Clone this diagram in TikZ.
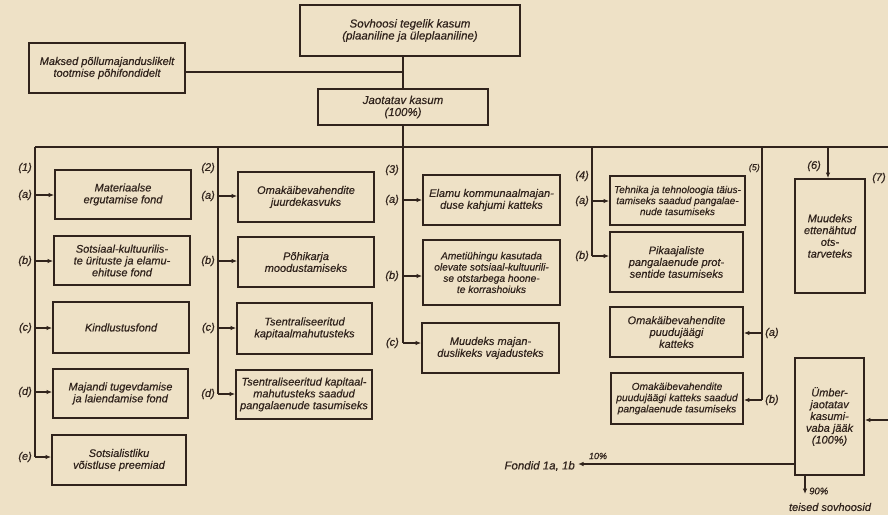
\documentclass[tikz,border=0pt]{standalone}
\usepackage{fontspec}
\setmainfont{Liberation Sans}[ItalicFeatures={FakeBold=0.45}]
\usetikzlibrary{arrows.meta}
\definecolor{paper}{RGB}{238,225,198}
\definecolor{ink}{RGB}{48,35,28}
\tikzset{
  box/.style={draw=ink, line width=1.7pt, align=center, inner sep=1pt, text=ink,
    font=\fontsize{11}{11.8}\selectfont\itshape},
  smallbox/.style={box, font=\fontsize{10.2}{11.2}\selectfont\itshape},
  conn/.style={draw=ink, line width=1.2pt},
  arr/.style={conn, -{Latex[length=5.5pt,width=4.5pt]}},
  lab/.style={text=ink, inner sep=1pt, font=\fontsize{11}{12}\selectfont\itshape},
}
\begin{document}
\begin{tikzpicture}[x=1pt,y=-1pt]
\fill[paper] (0,0) rectangle (888,515);
\useasboundingbox (0,0) rectangle (888,515);

% top boxes
\node[box, minimum width=220pt, minimum height=51pt, font=\fontsize{11.5}{12}\selectfont\itshape] (T) at (410,30.5)
  {Sovhoosi tegelik kasum\\(plaaniline ja üleplaaniline)};
\node[box, minimum width=156pt, minimum height=50pt] (P) at (107,68)
  {Maksed põllumajanduslikelt\\tootmise põhifondidelt};
\node[box, minimum width=170pt, minimum height=36pt, font=\fontsize{11.5}{12}\selectfont\itshape] (J) at (403,107)
  {Jaotatav kasum\\(100\%)};

\coordinate (pj) at (403,72);
\draw[conn] (T.south -| J.north) -- (J.north);
\draw[conn] (P.east |- pj) -- (pj);

% bus
\coordinate (b1) at (35,147);
\coordinate (bR) at (888,147);
\draw[conn] (b1) -- (bR);
\draw[conn] (J.south) -- (J.south |- b1);

% column 1
\node[box, minimum width=136pt, minimum height=49pt] (m1a) at (123,194.5) {Materiaalse\\ergutamise fond};
\node[box, minimum width=136pt, minimum height=49pt] (m1b) at (122,260.5) {Sotsiaal-kultuurilis-\\te ürituste ja elamu-\\ehituse fond};
\node[box, minimum width=136pt, minimum height=51pt] (m1c) at (121,327.5) {Kindlustusfond};
\node[box, minimum width=135pt, minimum height=49pt] (m1d) at (120.5,393.5) {Majandi tugevdamise\\ja laiendamise fond};
\node[box, minimum width=134pt, minimum height=50pt] (m1e) at (119,460) {Sotsialistliku\\võistluse preemiad};
\coordinate (a1a) at (35,195);
\coordinate (a1b) at (35,261);
\coordinate (a1c) at (35,328);
\coordinate (a1d) at (35,392);
\coordinate (a1e) at (35,457);
\draw[conn] (b1) -- (a1e);
\foreach \k in {a,b,c,d,e} {\draw[arr] (a1\k) -- (a1\k -| m1\k.west);}
\node[lab, anchor=east] (l1) at (33,168) {(1)};
\node[lab, anchor=east] (l1a) at (33,195) {(a)};
\node[lab, anchor=east] (l1b) at (33,261) {(b)};
\node[lab, anchor=east] (l1c) at (33,328) {(c)};
\node[lab, anchor=east] (l1d) at (33,392) {(d)};
\node[lab, anchor=east] (l1e) at (33,457) {(e)};

% column 2
\node[box, minimum width=136pt, minimum height=50pt] (m2a) at (306,197) {Omakäibevahendite\\juurdekasvuks};
\node[box, minimum width=136pt, minimum height=50pt] (m2b) at (306,262) {Põhikarja\\moodustamiseks};
\node[box, minimum width=135pt, minimum height=51pt] (m2c) at (304.5,328.5) {Tsentraliseeritud\\kapitaalmahutusteks};
\node[box, minimum width=136pt, minimum height=49pt] (m2d) at (304,394.5) {Tsentraliseeritud kapitaal-\\mahutusteks saadud\\pangalaenude tasumiseks};
\coordinate (t2) at (218,147);
\coordinate (a2a) at (218,196);
\coordinate (a2b) at (218,261);
\coordinate (a2c) at (218,328);
\coordinate (a2d) at (218,394);
\draw[conn] (t2) -- (a2d);
\foreach \k in {a,b,c,d} {\draw[arr] (a2\k) -- (a2\k -| m2\k.west);}
\node[lab, anchor=east] (l2) at (216,168) {(2)};
\node[lab, anchor=east] (l2a) at (216,196) {(a)};
\node[lab, anchor=east] (l2b) at (216,261) {(b)};
\node[lab, anchor=east] (l2c) at (216,328) {(c)};
\node[lab, anchor=east] (l2d) at (216,394) {(d)};

% column 3
\node[box, minimum width=137pt, minimum height=50pt] (m3a) at (491.5,200) {Elamu kommunaalmajan-\\duse kahjumi katteks};
\node[smallbox, minimum width=137pt, minimum height=65pt] (m3b) at (491.5,272.5) {Ametiühingu kasutada\\olevate sotsiaal-kultuurili-\\se otstarbega hoone-\\te korrashoiuks};
\node[box, minimum width=137pt, minimum height=50pt] (m3c) at (490.5,348) {Muudeks majan-\\duslikeks vajadusteks};
\coordinate (a3a) at (403,200);
\coordinate (a3b) at (403,276);
\coordinate (a3c) at (403,343);
\draw[conn] (J.south |- b1) -- (a3c);
\foreach \k in {a,b,c} {\draw[arr] (a3\k) -- (a3\k -| m3\k.west);}
\node[lab, anchor=east] (l3) at (400,170) {(3)};
\node[lab, anchor=east] (l3a) at (400,200) {(a)};
\node[lab, anchor=east] (l3b) at (400,276) {(b)};
\node[lab, anchor=east] (l3c) at (400,343) {(c)};

% column 4
\node[smallbox, minimum width=135pt, minimum height=49pt, font=\fontsize{10}{11}\selectfont\itshape] (m4a) at (677.5,200.5) {Tehnika ja tehnoloogia täius-\\tamiseks saadud pangalae-\\nude tasumiseks};
\node[box, minimum width=133pt, minimum height=60pt] (m4b) at (676.5,262) {Pikaajaliste\\pangalaenude prot-\\sentide tasumiseks};
\coordinate (t4) at (592,147);
\coordinate (a4a) at (592,201);
\coordinate (a4b) at (592,256);
\draw[conn] (t4) -- (a4b);
\foreach \k in {a,b} {\draw[arr] (a4\k) -- (a4\k -| m4\k.west);}
\node[lab, anchor=east] (l4) at (590,176) {(4)};
\node[lab, anchor=east] (l4a) at (590,201) {(a)};
\node[lab, anchor=east] (l4b) at (590,256) {(b)};

% column 5
\node[box, minimum width=133pt, minimum height=50pt] (m5a) at (676.5,332) {Omakäibevahendite\\puudujäägi\\katteks};
\node[smallbox, minimum width=132pt, minimum height=51pt] (m5b) at (677,398.5) {Omakäibevahendite\\puudujäägi katteks saadud\\pangalaenude tasumiseks};
\coordinate (t5) at (762,147);
\coordinate (a5a) at (762,333);
\coordinate (a5b) at (762,400);
\draw[conn] (t5) -- (a5b);
\foreach \k in {a,b} {\draw[arr] (a5\k) -- (a5\k -| m5\k.east);}
\node[lab, anchor=east, font=\fontsize{9}{10}\selectfont\itshape] (l5) at (761,168) {(5)};
\node[lab, anchor=west] (l5a) at (764,333) {(a)};
\node[lab, anchor=west] (l5b) at (764,400) {(b)};

% column 6 / 7
\node[box, minimum width=70pt, minimum height=114pt] (m6) at (830,236) {Muudeks\\ettenähtud\\ots-\\tarveteks};
\coordinate (t6) at (828,147);
\draw[arr] (t6) -- (t6 |- m6.north);
\node[lab, anchor=east] (l6) at (822,166) {(6)};
\node[lab] (l7) at (879,178) {(7)};

\node[box, minimum width=69pt, minimum height=117pt] (m7) at (829.5,416.5) {Ümber-\\jaotatav\\kasumi-\\vaba jääk\\(100\%)};
\coordinate (r7) at (888,420);
\draw[arr] (r7) -- (r7 -| m7.east);

\node[lab, anchor=east, font=\fontsize{11.5}{12}\selectfont\itshape] (fond) at (576,466) {Fondid 1a, 1b};
\coordinate (fy) at (578,464);
\draw[arr] (fy -| m7.west) -- (fy);
\node[lab, font=\fontsize{9}{10}\selectfont\itshape] (p10) at (598,456) {10\%};

\coordinate (d7) at (805,494);
\draw[arr] (m7.south -| d7) -- (d7);
\node[lab, anchor=west, font=\fontsize{9.5}{10}\selectfont\itshape] (p90) at (808,491) {90\%};
\node[lab] (teised) at (830,507) {teised sovhoosid};
\end{tikzpicture}
\end{document}
